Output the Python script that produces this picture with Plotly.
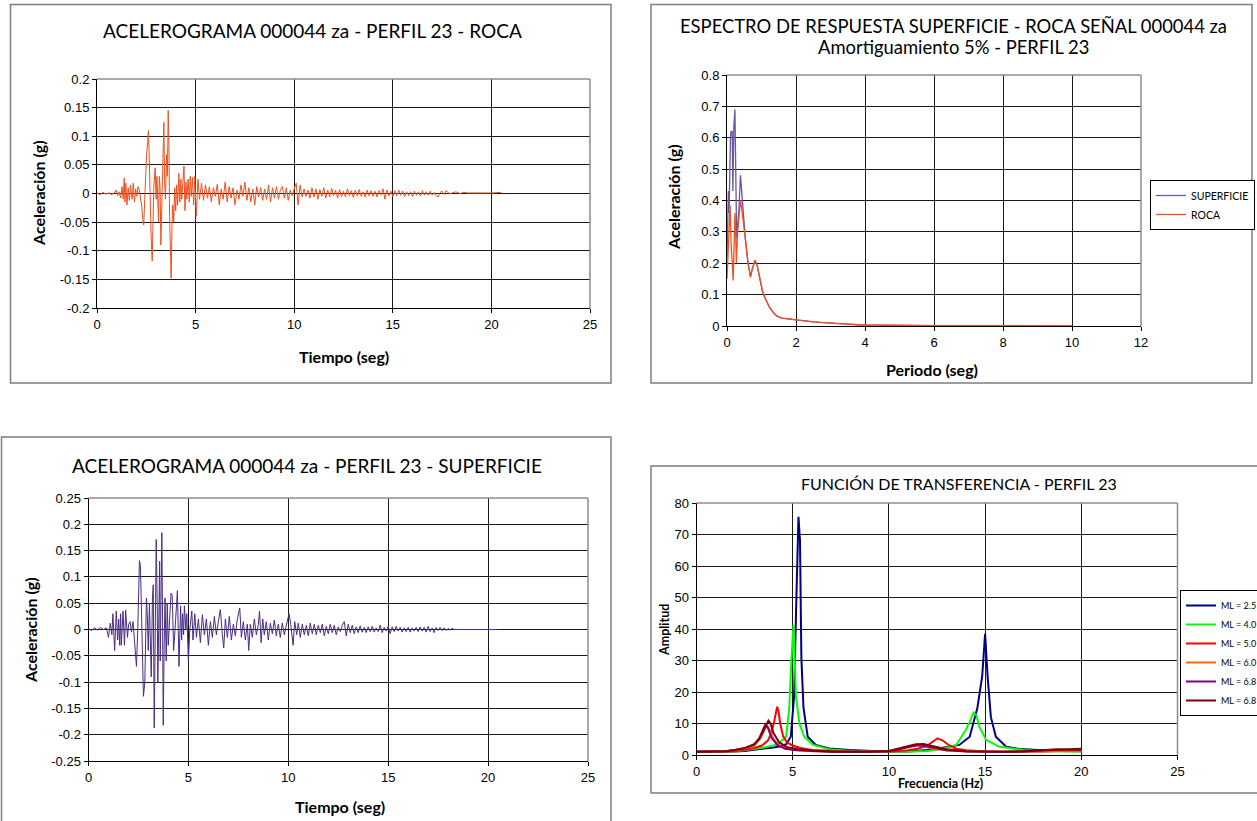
import plotly.graph_objects as go

W, H = 1257, 821

# ---------------- DATA ----------------
# Acelerograma ROCA (t [s], a [g])
roca_t = [0.0, 0.15, 0.3, 0.45, 0.6, 0.75, 0.9, 0.97, 1.05, 1.12,
          1.2, 1.27, 1.33, 1.38, 1.42, 1.46, 1.52, 1.58, 1.64, 1.7,
          1.78, 1.84, 1.9, 1.96, 2.02, 2.08, 2.15, 2.2, 2.26, 2.32,
          2.37, 2.42, 2.47, 2.52, 2.57, 2.61, 2.65, 2.7, 2.75, 2.8,
          2.84, 2.88, 2.95, 3.0, 3.04, 3.08, 3.12, 3.16, 3.2, 3.24,
          3.28, 3.33, 3.39, 3.43, 3.47, 3.53, 3.57, 3.61, 3.65, 3.68,
          3.72, 3.76, 3.8, 3.84, 3.89, 3.94, 3.99, 4.04, 4.09, 4.15,
          4.2, 4.25, 4.3, 4.36, 4.41, 4.46, 4.51, 4.56, 4.62, 4.68,
          4.73, 4.78, 4.84, 4.9, 4.96, 5.03, 5.08, 5.12, 5.2, 5.3,
          5.4, 5.5, 5.6, 5.7, 5.8, 5.9, 6.0, 6.1, 6.2, 6.3,
          6.4, 6.5, 6.6, 6.7, 6.8, 6.9, 7.0, 7.1, 7.2, 7.3,
          7.4, 7.5, 7.6, 7.7, 7.8, 7.9, 8.0, 8.1, 8.2, 8.3,
          8.4, 8.5, 8.6, 8.7, 8.8, 8.9, 9.0, 9.1, 9.2, 9.3,
          9.4, 9.5, 9.6, 9.7, 9.8, 9.9, 10.0, 10.1, 10.2, 10.3,
          10.4, 10.5, 10.6, 10.7, 10.8, 10.9, 11.0, 11.1, 11.2, 11.3,
          11.4, 11.5, 11.6, 11.7, 11.8, 11.9, 12.0, 12.1, 12.2, 12.3,
          12.4, 12.5, 12.6, 12.7, 12.8, 12.9, 13.0, 13.1, 13.2, 13.3,
          13.4, 13.5, 13.6, 13.7, 13.8, 13.9, 14.0, 14.1, 14.2, 14.3,
          14.4, 14.5, 14.6, 14.7, 14.8, 14.9, 15.0, 15.1, 15.2, 15.3,
          15.4, 15.5, 15.6, 15.7, 15.8, 15.9, 16.0, 16.1, 16.2, 16.3,
          16.4, 16.5, 16.6, 16.7, 16.8, 16.9, 17.0, 17.1, 17.2, 17.3,
          17.4, 17.5, 17.6, 17.7, 17.8, 17.9, 18.0, 18.2, 18.4, 18.6,
          18.8, 19.0, 19.5, 20.0, 20.5]
roca_a = [0.001, -0.002, 0.002, -0.001, 0.001, -0.002, 0.002, 0.006, -0.004, 0.003,
          -0.008, 0.012, -0.01, 0.027, -0.015, 0.018, -0.02, 0.01, -0.012, 0.015,
          -0.01, 0.018, -0.015, 0.008, -0.005, 0.012, 0.005, -0.005, -0.02, -0.045,
          -0.055, -0.01, 0.045, 0.07, 0.09, 0.11, 0.06, -0.03, -0.08, -0.118,
          -0.06, 0.01, 0.045, -0.01, 0.03, -0.02, -0.05, 0.03, 0.01, -0.09,
          -0.02, 0.06, 0.124, 0.02, -0.01, 0.068, 0.03, 0.145, 0.08, -0.04,
          -0.1, -0.148, -0.06, -0.02, -0.05, 0.01, -0.03, 0.015, -0.02, 0.035,
          -0.015, 0.025, -0.01, 0.02, 0.048, -0.03, 0.02, -0.01, 0.025, -0.015,
          0.03, -0.005, 0.028, -0.02, 0.03, -0.04, 0.0, 0.025, -0.01, 0.018,
          -0.012, 0.015, -0.008, 0.012, -0.015, 0.01, -0.005, 0.016, -0.02, 0.008,
          -0.01, 0.02, -0.015, 0.012, -0.008, 0.01, -0.02, 0.006, -0.01, 0.015,
          -0.005, 0.02, -0.012, 0.01, -0.015, 0.008, -0.02, 0.012, -0.006, 0.01,
          -0.012, 0.008, -0.01, 0.015, -0.015, 0.01, -0.008, 0.012, -0.01, 0.006,
          0.012, -0.008, 0.01, -0.012, 0.006, -0.004, 0.008, 0.018, -0.02, 0.015,
          -0.006, 0.008, -0.005, 0.006, -0.008, 0.01, -0.006, 0.008, -0.01, 0.007,
          -0.005, 0.01, -0.008, 0.006, -0.006, 0.009, -0.004, 0.006, -0.008, 0.007,
          -0.005, 0.004, -0.006, 0.008, -0.004, 0.005, -0.007, 0.006, -0.004, 0.007,
          -0.005, 0.003, -0.006, 0.006, -0.004, 0.005, -0.005, 0.004, -0.006, 0.005,
          -0.003, 0.008, -0.01, 0.006, -0.004, 0.004, -0.005, 0.005, -0.004, 0.006,
          -0.003, 0.004, -0.005, 0.003, -0.004, 0.003, -0.005, 0.004, -0.003, 0.003,
          -0.004, 0.005, -0.003, 0.003, -0.003, 0.004, -0.003, 0.002, -0.004, -0.006,
          0.002, 0.004, -0.002, 0.005, 0.002, -0.001, 0.001, 0.003, 0.0, 0.002,
          0.001, 0.001, 0.0, 0.001, 0.002]

# Acelerograma SUPERFICIE (t [s], a [g])
sup_t = [0.0, 0.15, 0.3, 0.45, 0.6, 0.75, 0.9, 1.0, 1.09, 1.17,
         1.22, 1.31, 1.39, 1.46, 1.51, 1.56, 1.61, 1.64, 1.73, 1.8,
         1.86, 1.95, 2.01, 2.08, 2.15, 2.23, 2.3, 2.35, 2.4, 2.47,
         2.52, 2.55, 2.6, 2.67, 2.7, 2.75, 2.82, 2.85, 2.9, 2.95,
         2.99, 3.05, 3.1, 3.14, 3.2, 3.24, 3.29, 3.34, 3.39, 3.44,
         3.47, 3.52, 3.56, 3.59, 3.64, 3.67, 3.71, 3.74, 3.79, 3.83,
         3.89, 3.94, 3.99, 4.04, 4.13, 4.19, 4.26, 4.33, 4.38, 4.45,
         4.53, 4.58, 4.61, 4.66, 4.71, 4.76, 4.8, 4.87, 4.92, 5.0,
         5.07, 5.17, 5.23, 5.32, 5.4, 5.5, 5.6, 5.7, 5.8, 5.9,
         6.0, 6.1, 6.2, 6.3, 6.4, 6.5, 6.6, 6.7, 6.77, 6.85,
         6.95, 7.05, 7.15, 7.25, 7.35, 7.45, 7.57, 7.65, 7.75, 7.85,
         7.95, 8.02, 8.1, 8.2, 8.3, 8.4, 8.5, 8.56, 8.64, 8.72,
         8.8, 8.9, 9.0, 9.1, 9.2, 9.3, 9.4, 9.5, 9.6, 9.7,
         9.8, 9.9, 10.04, 10.12, 10.24, 10.32, 10.42, 10.5, 10.6, 10.7,
         10.8, 10.9, 11.0, 11.1, 11.2, 11.3, 11.4, 11.5, 11.6, 11.7,
         11.8, 11.9, 12.0, 12.1, 12.2, 12.3, 12.4, 12.5, 12.6, 12.7,
         12.8, 12.9, 13.0, 13.1, 13.2, 13.3, 13.4, 13.5, 13.6, 13.7,
         13.8, 13.9, 14.0, 14.1, 14.2, 14.3, 14.4, 14.5, 14.6, 14.7,
         14.8, 14.9, 15.0, 15.1, 15.2, 15.3, 15.4, 15.5, 15.6, 15.7,
         15.8, 15.9, 16.0, 16.1, 16.2, 16.3, 16.4, 16.5, 16.6, 16.7,
         16.8, 16.9, 17.0, 17.1, 17.2, 17.3, 17.4, 17.5, 17.6, 17.7,
         17.8, 17.9, 18.0, 18.1, 18.2, 18.3, 18.5, 19.0, 20.0, 20.5]
sup_a = [0.002, -0.002, 0.003, -0.001, 0.004, 0.0, 0.003, -0.015, 0.012, -0.01,
         0.03, -0.04, 0.035, -0.02, 0.02, -0.03, 0.03, -0.03, 0.035, -0.03,
         0.037, -0.015, 0.01, 0.015, -0.005, 0.015, -0.02, -0.056, -0.07, 0.005,
         0.12, 0.131, 0.12, 0.0, -0.06, -0.127, -0.1, 0.0, 0.06, 0.02,
         -0.04, 0.05, -0.02, -0.09, 0.06, 0.085, -0.187, 0.05, 0.171, 0.05,
         -0.1, 0.02, 0.13, -0.06, 0.12, 0.184, 0.0, -0.182, -0.02, 0.06,
         -0.06, 0.05, -0.03, 0.0, 0.069, 0.065, -0.04, 0.0, 0.03, 0.074,
         -0.07, -0.01, 0.045, -0.02, 0.03, -0.01, 0.045, 0.0, 0.03, -0.06,
         0.0, 0.035, -0.02, 0.03, -0.015, 0.02, -0.025, 0.028, -0.01, 0.02,
         -0.03, 0.015, -0.015, 0.025, -0.01, 0.015, 0.038, -0.01, -0.035, 0.02,
         -0.015, 0.025, -0.02, 0.01, -0.012, 0.02, 0.041, -0.015, 0.015, -0.02,
         0.01, -0.04, 0.01, -0.015, 0.02, -0.01, 0.01, 0.035, -0.025, 0.02,
         -0.01, 0.015, -0.02, 0.012, -0.008, 0.018, -0.012, 0.01, -0.015, 0.012,
         -0.01, 0.008, 0.03, 0.01, -0.03, 0.015, -0.01, 0.012, -0.015, 0.01,
         -0.01, 0.008, -0.012, 0.012, -0.008, 0.01, -0.01, 0.008, -0.006, 0.01,
         -0.012, 0.006, -0.008, 0.01, -0.006, 0.008, -0.01, 0.005, -0.004, 0.008,
         0.015, -0.012, 0.01, -0.006, 0.008, -0.008, 0.005, -0.006, 0.007, -0.005,
         0.004, -0.006, 0.005, -0.004, 0.006, -0.005, 0.003, -0.004, 0.008, -0.006,
         0.004, -0.003, 0.006, -0.008, 0.005, -0.004, 0.006, -0.003, 0.004, -0.005,
         0.003, -0.004, 0.004, -0.005, 0.003, -0.003, 0.004, -0.004, 0.005, -0.003,
         0.004, -0.005, 0.006, -0.004, 0.003, -0.006, 0.004, -0.002, 0.004, -0.002,
         0.003, -0.002, 0.002, -0.001, 0.002, 0.0, 0.0, 0.0, 0.0, 0.0]

# Espectro de respuesta (T [s], Sa [g])
esp_sup_T = [0.0, 0.02, 0.04, 0.06, 0.08, 0.1, 0.12, 0.15, 0.17, 0.2,
             0.23, 0.26, 0.28, 0.31, 0.35, 0.39, 0.44, 0.47, 0.53, 0.61,
             0.68, 0.73, 0.77, 0.81, 0.88, 0.95, 1.03, 1.1, 1.23, 1.35,
             1.44, 1.59, 1.8, 2.0, 2.2, 2.5, 2.8, 3.0, 3.2, 3.5,
             3.8, 4.0, 4.5, 5.0, 5.5, 6.0, 7.0, 8.0, 9.0, 10.0]
esp_sup_Sa = [0.22, 0.3, 0.43, 0.36, 0.5, 0.6, 0.62, 0.62, 0.43, 0.64,
              0.69, 0.45, 0.28, 0.32, 0.38, 0.48, 0.4, 0.36, 0.28, 0.2,
              0.16, 0.18, 0.2, 0.21, 0.19, 0.15, 0.11, 0.09, 0.06, 0.042,
              0.032, 0.025, 0.022, 0.019, 0.016, 0.013, 0.011, 0.009, 0.008, 0.006,
              0.004, 0.003, 0.003, 0.002, 0.002, 0.001, 0.001, 0.0008, 0.0006, 0.0005]
esp_roca_T = [0.0, 0.03, 0.06, 0.09, 0.12, 0.15, 0.18, 0.21, 0.23, 0.25,
              0.27, 0.31, 0.35, 0.39, 0.43, 0.47, 0.53, 0.61,
              0.68, 0.73, 0.77, 0.81, 0.88, 0.95, 1.03, 1.1, 1.23, 1.35,
              1.44, 1.59, 1.8, 2.0, 2.2, 2.5, 2.8, 3.0, 3.2, 3.5,
              3.8, 4.0, 4.5, 5.0, 5.5, 6.0, 7.0, 8.0, 9.0, 10.0]
esp_roca_Sa = [0.15, 0.25, 0.33, 0.385, 0.26, 0.2, 0.145, 0.28, 0.36, 0.3,
               0.2, 0.3, 0.35, 0.4, 0.37, 0.34, 0.28, 0.2,
               0.155, 0.18, 0.2, 0.21, 0.19, 0.15, 0.11, 0.09, 0.06, 0.042,
               0.032, 0.025, 0.022, 0.019, 0.016, 0.013, 0.011, 0.009, 0.008, 0.006,
               0.004, 0.003, 0.003, 0.002, 0.002, 0.001, 0.001, 0.0008, 0.0006, 0.0005]

# Función de transferencia (f [Hz], amplitud)
ft_names = ["ML = 2.5", "ML = 4.0", "ML = 5.0", "ML = 6.0", "ML = 6.8", "ML = 6.8"]
ft_colors = ["#000080", "#00FF00", "#FF0000", "#FF6600", "#800080", "#800000"]
ft_f_25 = [0, 1, 2, 2.5, 3, 3.5, 4, 4.4, 4.66, 4.9, 5.07, 5.2, 5.3, 5.38, 5.45, 5.56,
           5.78, 6.2, 6.9, 7.95, 9, 10, 11, 11.5, 12, 12.5, 13, 13.66, 14.2, 14.6,
           14.85, 15.0, 15.13, 15.3, 15.56, 16.1, 16.8, 17.5, 18, 19, 20]
ft_a_25 = [1, 1, 1.1, 1.3, 1.6, 2.0, 2.4, 2.8, 3.4, 5.8, 18.5, 52, 75.6, 68, 31, 15,
           5.8, 3.2, 2.1, 1.6, 1.2, 1.0, 1.1, 1.3, 1.6, 2.0, 2.5, 3.2, 5.8, 15,
           25, 38.5, 25, 12, 5.8, 2.6, 1.9, 1.6, 1.5, 1.4, 1.6]
ft_f_40 = [0, 1, 2, 2.5, 3, 3.5, 4, 4.3, 4.66, 4.82, 4.94, 5.04, 5.1, 5.17, 5.35,
           5.6, 6.05, 6.9, 8, 9, 10, 11, 12, 12.5, 13, 13.5, 14.0, 14.2, 14.4,
           14.55, 14.7, 15.05, 15.75, 16.95, 18, 19, 20]
ft_a_40 = [1, 1, 1.2, 1.5, 1.9, 2.4, 3.0, 3.8, 5.8, 15, 31, 41.3, 31, 18.5, 10,
           5.8, 3.2, 1.8, 1.3, 1.1, 1.0, 1.0, 1.3, 1.7, 2.3, 3.2, 8, 10.5, 13.5,
           12.5, 9, 4.8, 2.6, 1.6, 1.2, 1.1, 1.0]
ft_f_50 = [0, 1, 1.5, 2, 2.5, 3, 3.4, 3.7, 3.9, 4.05, 4.14, 4.19, 4.26, 4.35, 4.5,
           4.7, 5.0, 5.4, 6, 7, 8, 9, 10, 11, 11.5, 12, 12.3, 12.53, 12.8, 13.1,
           13.5, 14, 15, 16, 17, 18, 19, 20]
ft_a_50 = [1, 1, 1.1, 1.3, 1.6, 2.2, 3.0, 4.5, 7, 11, 14.5, 15.3, 14, 10, 6,
           4, 3, 2.2, 1.6, 1.2, 1.0, 1.0, 1.1, 1.5, 2.0, 3.0, 4.2, 5.3, 4.6, 3.2,
           2.0, 1.5, 1.1, 1.0, 1.0, 1.1, 1.3, 1.5]
ft_f_60 = [0, 1, 1.5, 2, 2.5, 3, 3.3, 3.5, 3.65, 3.8, 4.0, 4.3, 4.7, 5.2, 6, 7, 8,
           9, 10, 10.5, 11, 11.4, 11.8, 12.3, 13, 14, 15, 16, 17, 18, 19, 20]
ft_a_60 = [1, 1, 1.2, 1.5, 2.0, 3.0, 5.0, 7.5, 9.5, 8, 5, 3, 2, 1.6, 1.2, 1.0, 1.0,
           1.0, 1.3, 2.0, 2.8, 3.2, 2.8, 2.0, 1.4, 1.1, 1.0, 1.0, 1.1, 1.3, 1.5, 1.4]
ft_f_68a = [0, 1, 1.5, 2, 2.5, 3, 3.25, 3.45, 3.58, 3.72, 3.9, 4.2, 4.6, 5.2, 6, 7,
            8, 9, 10, 10.5, 11, 11.5, 12, 12.5, 13, 14, 15, 16, 17, 18, 18.7, 19.5, 20]
ft_a_68a = [1, 1, 1.2, 1.6, 2.1, 3.3, 5.2, 8, 9.7, 8.5, 5.5, 3.2, 2.0, 1.5, 1.2, 1.0,
            1.0, 1.0, 1.2, 1.8, 2.5, 3.1, 2.7, 2.0, 1.5, 1.1, 1.0, 1.0, 1.1, 1.4, 1.8, 1.7, 1.6]
ft_f_68b = [0, 1, 1.5, 2, 2.5, 3, 3.3, 3.5, 3.65, 3.74, 3.85, 4.0, 4.3, 4.7, 5.3, 6,
            7, 8, 9, 10, 10.5, 11, 11.4, 11.8, 12.3, 13, 14, 15, 16, 17, 18, 19, 20]
ft_a_68b = [1, 1, 1.2, 1.6, 2.2, 3.4, 5.5, 8, 10.2, 10.9, 10, 7, 4, 2.5, 1.8, 1.4,
            1.1, 1.0, 1.0, 1.3, 2.0, 2.8, 3.4, 3.5, 2.8, 1.8, 1.2, 1.0, 1.0, 1.2, 1.5, 1.8, 2.0]

# Tick labels
acc1_ticks = [-0.2, -0.15, -0.1, -0.05, 0, 0.05, 0.1, 0.15, 0.2]
acc1_labels = ["-0.2", "-0.15", "-0.1", "-0.05", "0", "0.05", "0.1", "0.15", "0.2"]
acc3_ticks = [-0.25, -0.2, -0.15, -0.1, -0.05, 0, 0.05, 0.1, 0.15, 0.2, 0.25]
acc3_labels = ["-0.25", "-0.2", "-0.15", "-0.1", "-0.05", "0", "0.05", "0.1", "0.15", "0.2", "0.25"]
esp_ticks = [0, 0.1, 0.2, 0.3, 0.4, 0.5, 0.6, 0.7, 0.8]
esp_labels = ["0", "0.1", "0.2", "0.3", "0.4", "0.5", "0.6", "0.7", "0.8"]

# ---------------- FIGURE ----------------
def px(x):
    return x / W

def py(y):
    return 1 - y / H

ROCA_COL = "#F0501E"
SUP_COL_ACC = "#4A2C86"
SUP_COL_ESP = "#6A55A6"

fig = go.Figure()

fig.add_trace(go.Scatter(x=roca_t, y=roca_a, mode="lines", line=dict(color=ROCA_COL, width=1),
                         xaxis="x", yaxis="y", showlegend=False))
fig.add_trace(go.Scatter(x=esp_sup_T, y=esp_sup_Sa, mode="lines", name="SUPERFICIE",
                         line=dict(color=SUP_COL_ESP, width=1.3), xaxis="x2", yaxis="y2", legend="legend"))
fig.add_trace(go.Scatter(x=esp_roca_T, y=esp_roca_Sa, mode="lines", name="ROCA",
                         line=dict(color=ROCA_COL, width=1.3), xaxis="x2", yaxis="y2", legend="legend"))
fig.add_trace(go.Scatter(x=sup_t, y=sup_a, mode="lines", line=dict(color=SUP_COL_ACC, width=1),
                         xaxis="x3", yaxis="y3", showlegend=False))

ft_f = [ft_f_25, ft_f_40, ft_f_50, ft_f_60, ft_f_68a, ft_f_68b]
ft_a = [ft_a_25, ft_a_40, ft_a_50, ft_a_60, ft_a_68a, ft_a_68b]
for name, col, f, a in zip(ft_names, ft_colors, ft_f, ft_a):
    fig.add_trace(go.Scatter(x=f, y=a, mode="lines", name=name, line=dict(color=col, width=2),
                             xaxis="x4", yaxis="y4", legend="legend2"))

tickfont = dict(family="Liberation Sans, Arial", size=13, color="black")
GRID = "#1a1a1a"

def xax(dom, rng, dtick, anchor):
    return dict(domain=dom, range=rng, dtick=dtick, anchor=anchor, showgrid=True, gridcolor=GRID,
                gridwidth=1, zeroline=False, showline=True, linecolor="black", linewidth=1,
                ticks="outside", ticklen=4, tickcolor="black", tickfont=tickfont, fixedrange=True)

def yax(dom, rng, tv, tt, anchor):
    return dict(domain=dom, range=rng, tickvals=tv, ticktext=tt, anchor=anchor, showgrid=True,
                gridcolor=GRID, gridwidth=1, zeroline=False, showline=True, linecolor="black",
                linewidth=1, ticks="outside", ticklen=4, tickcolor="black", tickfont=tickfont,
                fixedrange=True)

# plot-area pixel boxes (left, right, top, bottom)
P1 = (97, 590, 79, 308)
P2 = (727, 1141, 75, 326)
P3 = (88.5, 588, 498, 761)
P4 = (696.5, 1177.5, 503, 755)

def dom(p):
    return [px(p[0]), px(p[1])], [py(p[3]), py(p[2])]

d1x, d1y = dom(P1)
d2x, d2y = dom(P2)
d3x, d3y = dom(P3)
d4x, d4y = dom(P4)

fig.update_layout(
    xaxis=xax(d1x, [0, 25], 5, "y"),
    yaxis=yax(d1y, [-0.2, 0.2], acc1_ticks, acc1_labels, "x"),
    xaxis2=xax(d2x, [0, 12], 2, "y2"),
    yaxis2=yax(d2y, [0, 0.8], esp_ticks, esp_labels, "x2"),
    xaxis3=xax(d3x, [0, 25], 5, "y3"),
    yaxis3=yax(d3y, [-0.25, 0.25], acc3_ticks, acc3_labels, "x3"),
    xaxis4=xax(d4x, [0, 25], 5, "y4"),
    yaxis4=dict(domain=d4y, range=[0, 80], dtick=10, anchor="x4", showgrid=True, gridcolor=GRID,
                zeroline=False, showline=True, linecolor="black", linewidth=1, ticks="outside",
                ticklen=4, tickcolor="black", tickfont=tickfont, fixedrange=True),
)

# legends
fig.update_layout(
    legend=dict(x=px(1150), y=py(180), xanchor="left", yanchor="top", bordercolor="black",
                borderwidth=1, bgcolor="white", font=dict(family="Lato", size=10.5, color="black"),
                itemwidth=30, tracegroupgap=0),
    legend2=dict(x=px(1180), y=py(590), xanchor="left", yanchor="top", bordercolor="black",
                 borderwidth=1, bgcolor="white", font=dict(family="Lato", size=9, color="black"),
                 itemwidth=30, tracegroupgap=0),
)

shapes = []
# chart-area borders
for (l, t, r, b) in [(10.5, 4.5, 611, 383), (651, 4.5, 1252, 383), (1.5, 437, 611, 830), (651, 466, 1265, 793)]:
    shapes.append(dict(type="rect", xref="paper", yref="paper", x0=px(l), x1=px(r), y0=py(b), y1=py(t),
                       line=dict(color="#7f7f7f", width=1.5), layer="below"))
# grey plot-area border (top and right edges)
for ax in ["", "2", "3", "4"]:
    xr, yr = "x%s domain" % ax, "y%s domain" % ax
    shapes.append(dict(type="line", xref=xr, yref=yr, x0=0, x1=1, y0=1, y1=1,
                       line=dict(color="#8c8c8c", width=1.5), layer="above"))
    shapes.append(dict(type="line", xref=xr, yref=yr, x0=1, x1=1, y0=0, y1=1,
                       line=dict(color="#8c8c8c", width=1.5), layer="above"))
fig.update_layout(shapes=shapes)

ann = []
def text(x, y, s, size, bold=False, angle=0, family="Lato"):
    ann.append(dict(x=px(x), y=py(y), xref="paper", yref="paper", text=("<b>%s</b>" % s) if bold else s,
                    showarrow=False, xanchor="center", yanchor="middle", textangle=angle,
                    font=dict(family=family, size=size, color="black")))

# Panel 1
text(312, 30, "ACELEROGRAMA 000044 za - PERFIL 23 - ROCA", 19)
text(344, 357, "Tiempo (seg)", 16, bold=True)
text(39, 193, "Aceleración (g)", 16, bold=True, angle=-90)
# Panel 2
text(953, 26, "ESPECTRO DE RESPUESTA SUPERFICIE - ROCA SEÑAL 000044 za", 18.4)
text(953, 47, "Amortiguamiento 5% - PERFIL 23", 18.4)
text(932, 369, "Periodo (seg)", 16, bold=True)
text(674, 197, "Aceleración (g)", 16, bold=True, angle=-90)
# Panel 3
text(307, 465, "ACELEROGRAMA 000044 za - PERFIL 23 - SUPERFICIE", 19)
text(340, 806, "Tiempo (seg)", 16, bold=True)
text(30, 630, "Aceleración (g)", 16, bold=True, angle=-90)
# Panel 4
text(959, 483, "FUNCIÓN DE TRANSFERENCIA - PERFIL 23", 16)
text(940, 783, "Frecuencia (Hz)", 12.5, bold=True)
text(664, 630, "Amplitud", 12.5, bold=True, angle=-90)

fig.update_layout(annotations=ann)

fig.update_layout(
    width=W, height=H, autosize=False,
    margin=dict(l=0, r=0, t=0, b=0, autoexpand=False),
    paper_bgcolor="white", plot_bgcolor="white",
    font=dict(family="Lato", color="black"),
)

fig.write_html("out.html", config={"displayModeBar": False},
               post_script="document.body.style.margin='0';document.body.style.overflow='hidden';")
